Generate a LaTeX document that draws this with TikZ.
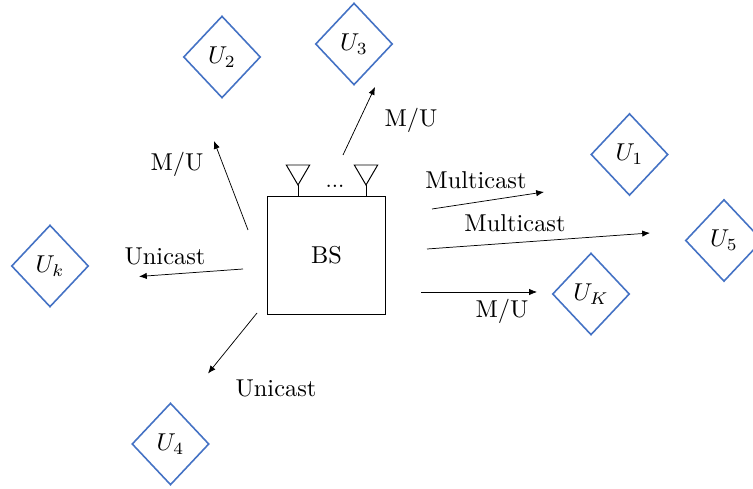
\documentclass[tikz,border=0pt]{standalone}
\usepackage{amsmath}
\usepackage{xcolor}
\usepackage{tikz}
\usetikzlibrary{shapes.geometric,arrows.meta}

\definecolor{userblue}{RGB}{68,114,196}

\tikzset{
    user/.style={diamond, draw=userblue, line width=0.65pt, aspect=1, inner sep=0pt,
                 minimum width=31.6pt, minimum height=33.6pt},
    link/.style={-{Latex[length=3.2pt,width=2.6pt]}, line width=0.3pt},
}

\begin{document}
\begin{tikzpicture}[x=0.41pt, y=-0.41pt]
    \useasboundingbox (0,0) rectangle (753,489);

    % base station with its antennas
    \node[draw, line width=0.4pt, minimum size=48pt, inner sep=0pt] (bs) at (326.5,255.5) {BS};
    \foreach \x in {298,366} {
        \draw[line width=0.4pt] (\x,197) -- (\x,185);
        \draw[line width=0.4pt] (\x,185) -- (\x-11.7,165) -- (\x+11.7,165) -- cycle;
    }
    \node[font=\small, inner sep=0pt] (dots) at (335,186) {...};

    % users
    \node[user] (u1) at (629.5,154.5) {$U_1$};
    \node[user] (u2) at (222,57)      {$U_2$};
    \node[user] (u3) at (354,44)      {$U_3$};
    \node[user] (u4) at (170.5,444)   {$U_4$};
    \node[user] (u5) at (724,240.5)   {$U_5$};
    \node[user] (uK) at (591,294)     {$U_K$};
    \node[user] (uk) at (50,266)      {$U_k$};

    % arrow ends
    \coordinate (a3s) at (343,155);   \coordinate (a3e) at (375,87);
    \coordinate (a2s) at (248,230);   \coordinate (a2e) at (214,141);
    \coordinate (m1s) at (432,209);   \coordinate (m1e) at (544,192);
    \coordinate (m5s) at (427,249);   \coordinate (m5e) at (650,233);
    \coordinate (aKs) at (421,292);   \coordinate (aKe) at (537,292);
    \coordinate (uks) at (243,269);   \coordinate (uke) at (139,276.5);
    \coordinate (u4s) at (257,313);   \coordinate (u4e) at (208,373.5);

    \draw[link] (a3s) -- (a3e);
    \draw[link] (a2s) -- (a2e);
    \draw[link] (m1s) -- (m1e);
    \draw[link] (m5s) -- (m5e);
    \draw[link] (aKs) -- (aKe);
    \draw[link] (uks) -- (uke);
    \draw[link] (u4s) -- (u4e);

    % labels
    \node (l3) at (411,120) {M/U};
    \node (l2) at (177,164) {M/U};
    \node (l1) at (476,180) {Multicast};
    \node (l5) at (515,223) {Multicast};
    \node (lK) at (502,311) {M/U};
    \node (lk) at (165,256) {Unicast};
    \node (l4) at (276,388) {Unicast};
\end{tikzpicture}
\end{document}
